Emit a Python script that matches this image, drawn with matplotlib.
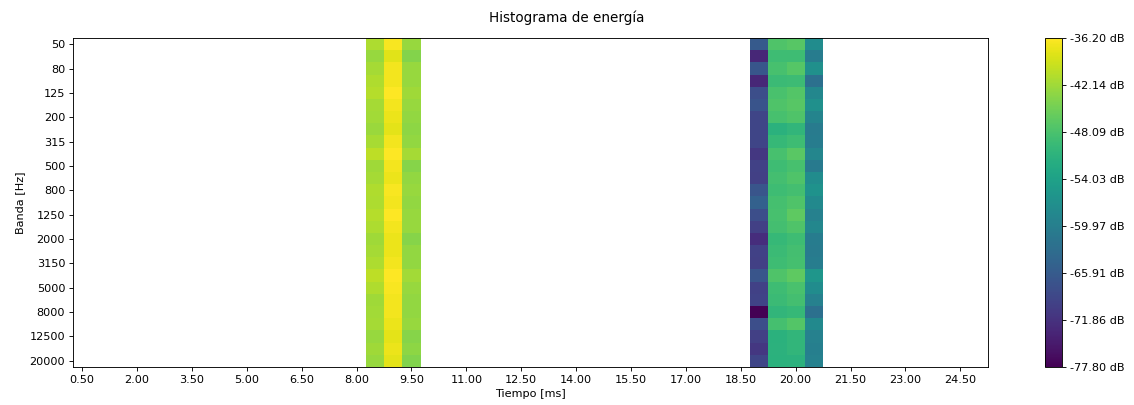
import numpy as np
import matplotlib.pyplot as plt


bandas = [50, 63, 80, 100, 125, 160, 200, 250, 315, 400, 500, 630, 800, 1000,
          1250, 1600, 2000, 2500, 3150, 4000, 5000, 6300, 8000, 10000, 12500,
          16000, 20000]
tiempos = np.arange(0.5, 25.01, 0.5)  # ms, 50 ventanas

# energia por banda (dB) en las ventanas con senal, el resto queda vacio
e_t8_5 = [-41.4, -42.6, -41.8, -41.2, -40.8, -41.8, -42.0, -42.4, -41.6, -40.4,
          -42.2, -41.8, -41.2, -41.4, -40.8, -41.4, -42.2, -41.8, -41.4, -40.4,
          -41.2, -42.2, -42.0, -41.8, -42.6, -42.2, -42.6]
e_t9_0 = [-36.6, -38.1, -37.0, -37.0, -36.2, -37.0, -37.4, -37.9, -37.0, -36.2,
          -37.0, -37.4, -36.6, -37.0, -36.2, -37.0, -37.4, -37.4, -37.0, -36.3,
          -36.6, -37.0, -37.0, -37.4, -37.9, -37.4, -37.9]
e_t9_5 = [-42.6, -43.9, -42.6, -42.6, -42.2, -42.6, -43.0, -43.3, -43.0, -41.8,
          -43.7, -42.9, -42.6, -42.9, -42.6, -42.6, -43.7, -43.0, -42.9, -42.0,
          -42.6, -43.0, -42.9, -42.6, -43.7, -43.3, -44.1]
e_t19_0 = [-66.1, -73.2, -66.6, -73.2, -67.8, -67.0, -69.1, -69.1, -69.1, -71.1,
           -69.7, -69.9, -66.8, -64.9, -67.8, -69.9, -72.4, -69.7, -69.9, -66.8,
           -69.7, -69.5, -77.8, -67.8, -69.9, -71.1, -69.1]
e_t19_5 = [-47.6, -49.1, -48.3, -49.5, -48.1, -47.6, -48.3, -51.2, -49.9, -48.3,
           -49.1, -48.7, -49.1, -48.5, -48.3, -48.7, -49.9, -49.5, -49.1, -47.6,
           -49.1, -49.5, -50.5, -48.5, -51.2, -51.0, -51.2]
e_t20_0 = [-47.0, -49.1, -47.2, -49.3, -47.4, -47.0, -47.6, -50.5, -49.1, -46.8,
           -48.3, -47.6, -48.7, -47.6, -46.6, -47.6, -49.1, -48.7, -48.5, -46.6,
           -48.1, -48.7, -49.9, -47.4, -50.5, -50.5, -51.0]
e_t20_5 = [-57.6, -60.3, -57.0, -62.4, -58.5, -57.0, -59.1, -60.5, -60.3, -58.7,
           -60.7, -57.6, -56.6, -58.0, -59.5, -58.5, -60.3, -60.5, -60.1, -56.0,
           -57.6, -59.5, -62.4, -58.0, -59.5, -59.9, -59.5]
columnas = {8.5: e_t8_5, 9.0: e_t9_0, 9.5: e_t9_5, 19.0: e_t19_0,
            19.5: e_t19_5, 20.0: e_t20_0, 20.5: e_t20_5}

energia = np.full((len(bandas), len(tiempos)), np.nan)
for t, vals in columnas.items():
    energia[:, int(round((t - tiempos[0]) / 0.5))] = vals

vmin, vmax = np.nanmin(energia), np.nanmax(energia)
dt = tiempos[1] - tiempos[0]

fig = plt.figure(figsize=(14, 5), dpi=81)
ax = fig.add_axes([0.0644, 0.094, 0.8066, 0.812])
cax = fig.add_axes([0.9215, 0.094, 0.015, 0.812])

im = ax.imshow(energia, aspect='auto', cmap='viridis', interpolation='nearest',
               vmin=vmin, vmax=vmax,
               extent=[tiempos[0] - dt / 2, tiempos[-1] + dt / 2, len(bandas) - 0.5, -0.5])

ax.set_xticks(tiempos[::3])
ax.set_xticklabels([f"{t:.2f}" for t in tiempos[::3]])
ax.set_yticks(range(0, len(bandas), 2))
ax.set_yticklabels([str(b) for b in bandas[::2]])
ax.set_xlabel("Tiempo [ms]")
ax.set_ylabel("Banda [Hz]")
fig.suptitle("Histograma de energía", y=0.975)

cb = fig.colorbar(im, cax=cax)
cb.set_ticks(np.linspace(vmin, vmax, 8))
cb.set_ticklabels([f"{v:.2f} dB" for v in np.linspace(vmin, vmax, 8)])

fig.savefig("out.png", dpi=81)
